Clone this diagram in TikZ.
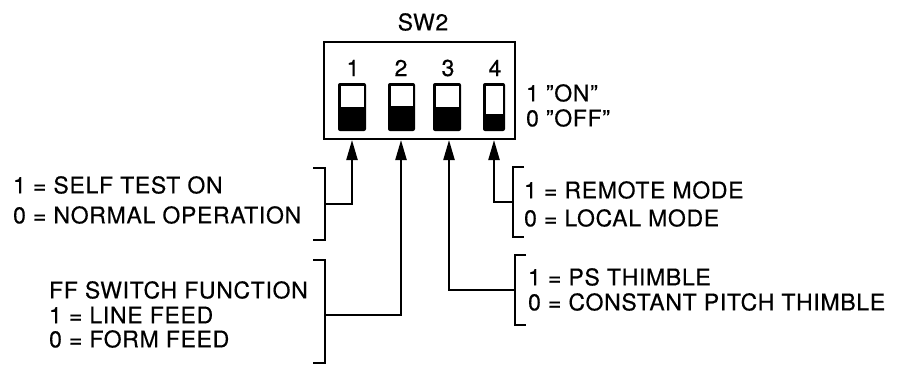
\documentclass[tikz,border=0pt]{standalone}
\usepackage{fontspec}
\setmainfont{TeX Gyre Heros}[LetterSpace=3,FakeBold=0.4]
\usetikzlibrary{arrows.meta}
\begin{document}
\begin{tikzpicture}[x=1pt,y=-1pt,line width=2.2pt,
  lbl/.style={font=\fontsize{23}{26}\selectfont,inner sep=0pt,anchor=west},
  num/.style={font=\fontsize{23}{26}\selectfont,inner sep=0pt},
  arr/.style={-{Triangle[length=20pt,width=11pt]}},
  brk/.style={line width=2.2pt},
  knob/.style={fill=black,rounded corners=2pt},
  win/.style={fill=white}]
\useasboundingbox (0,0) rectangle (910,367);
% title
\node[num] (title) at (423,22) {SW2};
% switch box
\node[draw,line width=2.2pt,minimum width=191pt,minimum height=97pt,inner sep=0pt] (box) at (419.5,90.5) {};
% numbers
\node[num] (n1) at (353,68) {1};
\node[num] (n2) at (401,68) {2};
\node[num] (n3) at (448,68) {3};
\node[num] (n4) at (495,68) {4};
% switches
\fill[knob] (338,83) rectangle (366,131);
\fill[win] (340.5,85.5) rectangle (363.5,107);
\fill[knob] (388,83) rectangle (415,131);
\fill[win] (390.5,85.5) rectangle (412.5,106);
\fill[knob] (433,83) rectangle (461,131);
\fill[win] (435.5,85.5) rectangle (458.5,107);
\fill[knob] (483,83) rectangle (505,131);
\fill[win] (485.5,85.5) rectangle (502.5,114);
% on/off
\node[lbl] (on) at (525,93) {1 ''ON''};
\node[lbl] (off) at (525,118) {0 ''OFF''};
% arrow tips
\coordinate (t1) at (352,140);
\coordinate (t2) at (401,140);
\coordinate (t3) at (449,140);
\coordinate (t4) at (494,140);
% left texts
\node[lbl] (st1) at (12,185) {1 = SELF TEST ON};
\node[lbl] (st0) at (12,215) {0 = NORMAL OPERATION};
\node[lbl] (ffh) at (48,290) {FF SWITCH FUNCTION};
\node[lbl] (ff1) at (48,315) {1 = LINE FEED};
\node[lbl] (ff0) at (48,339) {0 = FORM FEED};
% right texts
\node[lbl] (rm1) at (523,190) {1 = REMOTE MODE};
\node[lbl] (rm0) at (523,218) {0 = LOCAL MODE};
\node[lbl] (ps1) at (527,277) {1 = PS THIMBLE};
\node[lbl] (ps0) at (527,302) {0 = CONSTANT PITCH THIMBLE};
% brackets
\draw[brk] (313,168) -- (325,168) -- (325,240) -- (313,240);
\coordinate (b1) at (325,204);
\draw[brk] (313,260) -- (325,260) -- (325,363) -- (313,363);
\coordinate (b2) at (325,315);
\draw[brk] (526,255) -- (515,255) -- (515,325) -- (526,325);
\coordinate (b3) at (515,290);
\draw[brk] (524,167) -- (513,167) -- (513,237) -- (524,237);
\coordinate (b4) at (513,202);
% connectors
\draw[arr] (b1) -| (t1);
\draw[arr] (b2) -| (t2);
\draw[arr] (b3) -| (t3);
\draw[arr] (b4) -| (t4);
\end{tikzpicture}
\end{document}
